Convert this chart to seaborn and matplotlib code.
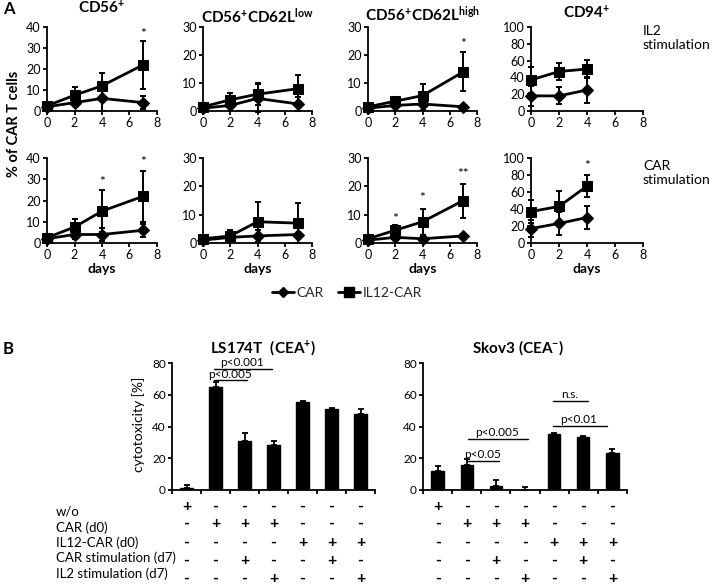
import numpy as np
import pandas as pd
import seaborn as sns
import matplotlib
matplotlib.use("Agg")
import matplotlib.pyplot as plt
from matplotlib.lines import Line2D
from matplotlib.transforms import blended_transform_factory

sns.set_theme(style="ticks")
plt.rcParams["font.family"] = ["Lato", "DejaVu Sans"]
plt.rcParams["mathtext.fontset"] = "custom"
plt.rcParams["mathtext.rm"] = "Lato"
plt.rcParams["mathtext.bf"] = "Lato:bold"
plt.rcParams["mathtext.it"] = "Lato:italic"

# ---------------- data: panel A ----------------
days = [0, 2, 4, 7]
days_cd94 = [0, 2, 4]
groups = ["CAR", "IL12-CAR"]
titles = [r"$\mathbf{CD56^{+}}$", r"$\mathbf{CD56^{+}CD62L^{low}}$",
          r"$\mathbf{CD56^{+}CD62L^{high}}$", r"$\mathbf{CD94^{+}}$"]
y_max = [40, 30, 30, 100]
y_step = [10, 10, 10, 20]
row_labels = ["IL2\nstimulation", "CAR\nstimulation"]

# IL2 stimulation row
il2_cd56_car = [2, 4, 6, 4];        il2_cd56_car_err = [0.5, 1, 6, 3]
il2_cd56_il12 = [2.5, 7.5, 12, 22]; il2_cd56_il12_err = [1, 4, 6, 11.5]
il2_low_car = [1, 2, 4.5, 2.5];     il2_low_car_err = [0.5, 1, 5, 2.5]
il2_low_il12 = [1.5, 4, 6, 8];      il2_low_il12_err = [0.5, 2.5, 4, 5]
il2_high_car = [1, 2, 2.5, 1.5];    il2_high_car_err = [0.5, 1, 2, 0.5]
il2_high_il12 = [1.5, 3.5, 5.5, 14]; il2_high_il12_err = [0.5, 1, 4, 7]
il2_cd94_car = [18, 18, 25];        il2_cd94_car_err = [12, 10, 15]
il2_cd94_il12 = [37, 47, 50];       il2_cd94_il12_err = [15, 10, 11]

# CAR stimulation row
car_cd56_car = [2, 4, 4, 6];        car_cd56_car_err = [1, 2, 3, 3]
car_cd56_il12 = [2.5, 7.5, 15, 22]; car_cd56_il12_err = [1, 4, 10, 12]
car_low_car = [1, 2, 2.5, 3];       car_low_car_err = [1, 1.5, 2, 3]
car_low_il12 = [1.5, 2.5, 7.5, 7];  car_low_il12_err = [0.5, 2, 7, 7]
car_high_car = [1, 2, 1.5, 2.5];    car_high_car_err = [0.5, 1, 1, 0.5]
car_high_il12 = [1.5, 4.5, 7.5, 15]; car_high_il12_err = [0.5, 2, 4.5, 6]
car_cd94_car = [17, 23, 30];        car_cd94_car_err = [10, 14, 13]
car_cd94_il12 = [37, 43, 67];       car_cd94_il12_err = [14, 18, 13]

# significance marks (row, panel, day, y, text)
stars = [(0, 0, 7, 36.5, "*"), (0, 2, 7, 24, "*"),
         (1, 0, 4, 28.5, "*"), (1, 0, 7, 38, "*"),
         (1, 2, 2, 8.5, "*"), (1, 2, 4, 16, "*"), (1, 2, 7, 24.5, "**"),
         (1, 3, 4, 90, "*")]

rows = [
    [(days, il2_cd56_car, il2_cd56_car_err, il2_cd56_il12, il2_cd56_il12_err),
     (days, il2_low_car, il2_low_car_err, il2_low_il12, il2_low_il12_err),
     (days, il2_high_car, il2_high_car_err, il2_high_il12, il2_high_il12_err),
     (days_cd94, il2_cd94_car, il2_cd94_car_err, il2_cd94_il12, il2_cd94_il12_err)],
    [(days, car_cd56_car, car_cd56_car_err, car_cd56_il12, car_cd56_il12_err),
     (days, car_low_car, car_low_car_err, car_low_il12, car_low_il12_err),
     (days, car_high_car, car_high_car_err, car_high_il12, car_high_il12_err),
     (days_cd94, car_cd94_car, car_cd94_car_err, car_cd94_il12, car_cd94_il12_err)],
]

# ---------------- data: panel B ----------------
conditions = ["w/o", "CAR (d0)", "IL12-CAR (d0)", "CAR stimulation (d7)", "IL2 stimulation (d7)"]
table_signs = [
    ["+", "-", "-", "-", "-", "-", "-"],
    ["-", "+", "+", "+", "-", "-", "-"],
    ["-", "-", "-", "-", "+", "+", "+"],
    ["-", "-", "+", "-", "-", "+", "-"],
    ["-", "-", "-", "+", "-", "-", "+"],
]
ls174t_vals = [1, 65, 31, 28.5, 55.5, 51, 48]
ls174t_err = [2, 3, 5, 2.5, 0.6, 0.6, 3]
skov3_vals = [12, 15.5, 2.5, 0.3, 35, 33.5, 23.5]
skov3_err = [3, 4, 4, 1.5, 1.2, 0.6, 2.5]
b_titles = [r"$\mathbf{LS174T\ \ (CEA^{+})}$", r"$\mathbf{Skov3\ (CEA^{-})}$"]
# brackets: (x1, x2, y, label)
ls174t_brackets = [(1, 2.95, 76.5, "p<0.001"), (1, 2.1, 69, "p<0.005")]
skov3_brackets = [(1.1, 3.1, 32, "p<0.005"), (1.1, 2.1, 18.3, "p<0.05"),
                  (4, 5.15, 56, "n.s."), (4, 5.8, 40.5, "p<0.01")]

# ---------------- figure ----------------
W, H = 718, 585
fig = plt.figure(figsize=(W / 100, H / 100), dpi=100)


def fx(px):
    return px / W


def fy(py):
    return 1 - py / H


def style_axes(ax, lw=1.3, ls=9):
    sns.despine(ax=ax)
    for s in ["left", "bottom"]:
        ax.spines[s].set_linewidth(lw)
        ax.spines[s].set_color("black")
    ax.tick_params(axis="both", direction="out", length=3, width=lw, color="black",
                   pad=1.5, labelsize=ls, labelcolor="black")
    ax.grid(False)
    ax.set_facecolor("white")


panel_x = [(47, 157), (203, 312), (368, 477), (531, 643)]
row_y = [(27, 111), (158, 243)]

for r, row in enumerate(rows):
    for p, (dd, car, car_e, il12, il12_e) in enumerate(row):
        x0, x1 = panel_x[p]
        yt, yb = row_y[r]
        ax = fig.add_axes([fx(x0), fy(yb), fx(x1 - x0), (yb - yt) / H])
        df = pd.DataFrame({
            "day": list(dd) + list(dd),
            "value": list(car) + list(il12),
            "group": [groups[0]] * len(dd) + [groups[1]] * len(dd),
        })
        sns.lineplot(data=df, x="day", y="value", style="group",
                     markers={"CAR": "D", "IL12-CAR": "s"}, dashes=False,
                     color="black", linewidth=2, markersize=6.5, markeredgecolor="black",
                     errorbar=None, legend=False, ax=ax)
        for ln in ax.lines:
            ln.set_clip_on(False)
        ax.errorbar(dd, car, yerr=car_e, fmt="none", ecolor="black",
                    elinewidth=1.4, capsize=2.5, capthick=1.4, clip_on=False)
        ax.errorbar(dd, il12, yerr=il12_e, fmt="none", ecolor="black",
                    elinewidth=1.4, capsize=2.5, capthick=1.4, clip_on=False)
        ax.set_xlim(0, 8)
        ax.set_ylim(0, y_max[p])
        ax.set_xticks([0, 2, 4, 6, 8])
        ax.set_yticks(np.arange(0, y_max[p] + 1, y_step[p]))
        ax.set_xlabel("days" if r == 1 else "", fontsize=10, fontweight="bold",
                      color="black", labelpad=1)
        ax.set_ylabel("")
        style_axes(ax)
        for (sr, sp, sd, sy, st) in stars:
            if sr == r and sp == p:
                ax.text(sd, sy, st, ha="center", va="center", fontsize=10, color="black")
        if r == 0:
            tcy = [8, 16, 14, 13][p]
            fig.text(fx((x0 + x1) / 2), fy(tcy), titles[p], ha="center", va="center",
                     fontsize=11, color="black")

for r, lab in enumerate(row_labels):
    fig.text(fx(643), fy([38, 173][r]), lab, ha="left", va="center", fontsize=10,
             color="black", linespacing=1.25)

fig.text(fx(14), fy(124), "% of CAR T cells", rotation=90, ha="center", va="center",
         fontsize=10.5, fontweight="bold", color="black")
fig.text(fx(3), fy(9), "A", ha="left", va="center", fontsize=12, fontweight="bold", color="black")
fig.text(fx(3), fy(349), "B", ha="left", va="center", fontsize=12, fontweight="bold", color="black")

handles = [Line2D([], [], color="black", lw=2, marker="D", markersize=5),
           Line2D([], [], color="black", lw=2, marker="s", markersize=6.5)]
fig.legend(handles, groups, loc="center", bbox_to_anchor=(fx(347), fy(293)), ncol=2,
           frameon=False, fontsize=10, handlelength=1.6, handletextpad=0.2,
           columnspacing=1.0)

# ---------------- panel B ----------------
b_x = [(172, 375), (423, 627)]
b_vals = [ls174t_vals, skov3_vals]
b_errs = [ls174t_err, skov3_err]
b_brackets = [ls174t_brackets, skov3_brackets]
for i in range(2):
    x0, x1 = b_x[i]
    ax = fig.add_axes([fx(x0), fy(490), fx(x1 - x0), 127 / H])
    bdf = pd.DataFrame({"pos": np.arange(7), "val": b_vals[i]})
    sns.barplot(data=bdf, x="pos", y="val", color="black", width=0.42,
                errorbar=None, ax=ax, saturation=1, edgecolor="black")
    ax.errorbar(np.arange(7), b_vals[i], yerr=[np.zeros(7), b_errs[i]], fmt="none",
                ecolor="black", elinewidth=1.3, capsize=2.5, capthick=1.3)
    ax.set_xlim(-0.5, 6.5)
    ax.set_ylim(0, 80)
    ax.set_xticks(np.arange(-0.5, 7, 1))
    ax.set_xticklabels([])
    ax.set_yticks([0, 20, 40, 60, 80])
    ax.set_xlabel("")
    ax.set_ylabel("")
    style_axes(ax, ls=8.5)
    for (a, b, yv, lab) in b_brackets[i]:
        ax.plot([a - 0.05, b], [yv, yv], color="black", lw=1)
        ax.text((a + b) / 2 - 0.05, yv + 0.6, lab, ha="center", va="bottom",
                fontsize=8.5, color="black")
    fig.text(fx([263, 518][i]), fy(348), b_titles[i], ha="center", va="center",
             fontsize=11, color="black")
    tr = blended_transform_factory(ax.transData, fig.transFigure)
    sign_y = [507, 524, 543, 561, 579]
    for rr, signs in enumerate(table_signs):
        for c, s in enumerate(signs):
            ax.text(c, fy(sign_y[rr]), s, transform=tr, ha="center", va="center",
                    fontsize=11.5, fontweight="bold", color="black", clip_on=False)

fig.text(fx(139), fy(424), "cytotoxicity [%]", rotation=90, ha="center", va="center",
         fontsize=10, color="black")

label_y = [512, 528, 543, 558, 574]
for rr, cname in enumerate(conditions):
    fig.text(fx(56), fy(label_y[rr]), cname, ha="left", va="center", fontsize=9.5, color="black")

fig.savefig("out.png", dpi=100, facecolor="white")
